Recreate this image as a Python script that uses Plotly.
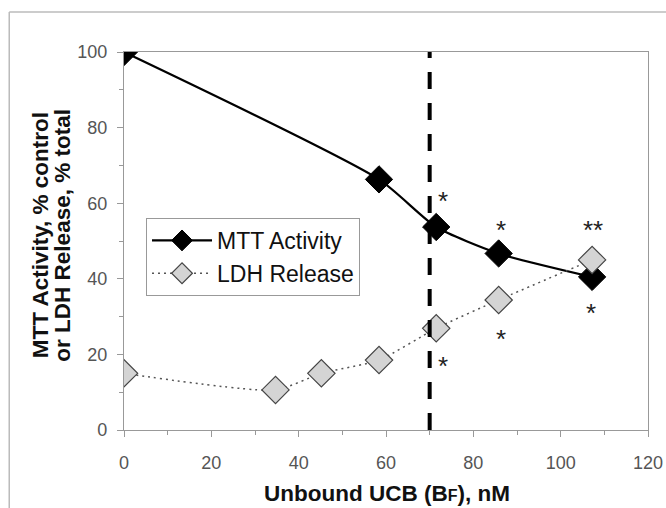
import plotly.graph_objects as go

# Data
mtt_x = [0, 58.4, 71.5, 85.8, 107.2]
mtt_y = [100, 66.3, 53.7, 46.7, 40.5]
ldh_x = [0, 34.7, 45.2, 58.4, 71.5, 85.8, 107.2]
ldh_y = [15, 10.6, 15, 18.5, 26.9, 34.4, 45.0]
threshold_x = 70
star_x = [73, 86.3, 107.4, 107.0, 86.3, 73]
star_y = [60.5, 53.0, 53.0, 31.0, 24.0, 17.0]
star_text = ["*", "*", "**", "*", "*", "*"]
x_ticks = [0, 20, 40, 60, 80, 100, 120]
y_ticks = [0, 20, 40, 60, 80, 100]
y_title_lines = ["MTT Activity, % control", "or LDH Release, % total"]
x_title = "Unbound UCB (B<span style='font-size:16px'>F</span>), nM"

tick_font = dict(family="Liberation Sans Narrow, Arial Narrow, Liberation Sans, sans-serif", size=18, color="#555555")
title_family = "Liberation Sans, Arial, sans-serif"

fig = go.Figure()

fig.add_trace(go.Scatter(
    x=mtt_x, y=mtt_y, mode="lines+markers", name="MTT Activity",
    line=dict(color="black", width=2.2, shape="spline", smoothing=0.6),
    marker=dict(symbol="diamond", size=21, color="black", line=dict(color="black", width=1)),
))
fig.add_trace(go.Scatter(
    x=ldh_x, y=ldh_y, mode="lines+markers", name="LDH Release",
    line=dict(color="#555555", width=1.5, dash="2px,4px", shape="spline", smoothing=0.6),
    marker=dict(symbol="diamond", size=21, color="#d4d4d4", line=dict(color="#444444", width=1.2)),
))

fig.add_shape(type="line", x0=threshold_x, x1=threshold_x, y0=0, y1=100,
              xref="x", yref="y", line=dict(color="black", width=4, dash="17px,14px"))

for sx, sy, st in zip(star_x, star_y, star_text):
    fig.add_annotation(x=sx, y=sy, text=st, showarrow=False, xref="x", yref="y",
                       font=dict(family=title_family, size=26, color="#222222"))

# axis titles
for px, line in zip([-0.158, -0.117], y_title_lines):
    fig.add_annotation(x=px, y=0.516, xref="paper", yref="paper", text="<b>" + line + "</b>",
                       textangle=-90, showarrow=False, xanchor="center", yanchor="middle",
                       font=dict(family=title_family, size=22.5, color="#111111"))
fig.add_annotation(x=0.502, y=-0.167, xref="paper", yref="paper", text="<b>" + x_title + "</b>",
                   showarrow=False, xanchor="center", yanchor="middle",
                   font=dict(family=title_family, size=22.5, color="#111111"))

# outer chart border (top and left edges visible)
fig.add_shape(type="line", xref="paper", yref="paper", x0=-0.219, x1=1.1, y0=1.106, y1=1.106,
              line=dict(color="#bbbbbb", width=1.5))
fig.add_shape(type="line", xref="paper", yref="paper", x0=-0.219, x1=-0.219, y0=-0.3, y1=1.106,
              line=dict(color="#bbbbbb", width=1.5))

fig.update_layout(
    width=666, height=508,
    margin=dict(l=124, r=18, t=52, b=78),
    plot_bgcolor="white", paper_bgcolor="white",
    showlegend=True,
    legend=dict(x=0.042, y=0.561, xanchor="left", yanchor="top",
                bgcolor="white", bordercolor="#999999", borderwidth=1,
                font=dict(family=title_family, size=23, color="#111111"),
                itemwidth=60, tracegroupgap=2),
    xaxis=dict(range=[0, 120], tickvals=x_ticks, ticks="outside", ticklen=6, tickcolor="#999999",
               showline=True, linecolor="#999999", linewidth=1.2, mirror=True, automargin=False,
               showgrid=False, zeroline=False, tickfont=tick_font, ticklabelstandoff=10,
               minor=dict(dtick=10, ticks="outside", ticklen=4, tickcolor="#999999")),
    yaxis=dict(range=[0, 100], tickvals=y_ticks, ticks="outside", ticklen=6, tickcolor="#999999",
               showline=True, linecolor="#999999", linewidth=1.2, mirror=True, automargin=False,
               showgrid=False, zeroline=False, tickfont=tick_font, ticklabelstandoff=6,
               minor=dict(dtick=10, ticks="outside", ticklen=4, tickcolor="#999999")),
)

# remove the default page margin so the 666x508 figure fills the window exactly
fig.write_html("out.html", config={"displayModeBar": False},
               post_script="document.body.style.margin='0';document.body.style.overflow='hidden';")
